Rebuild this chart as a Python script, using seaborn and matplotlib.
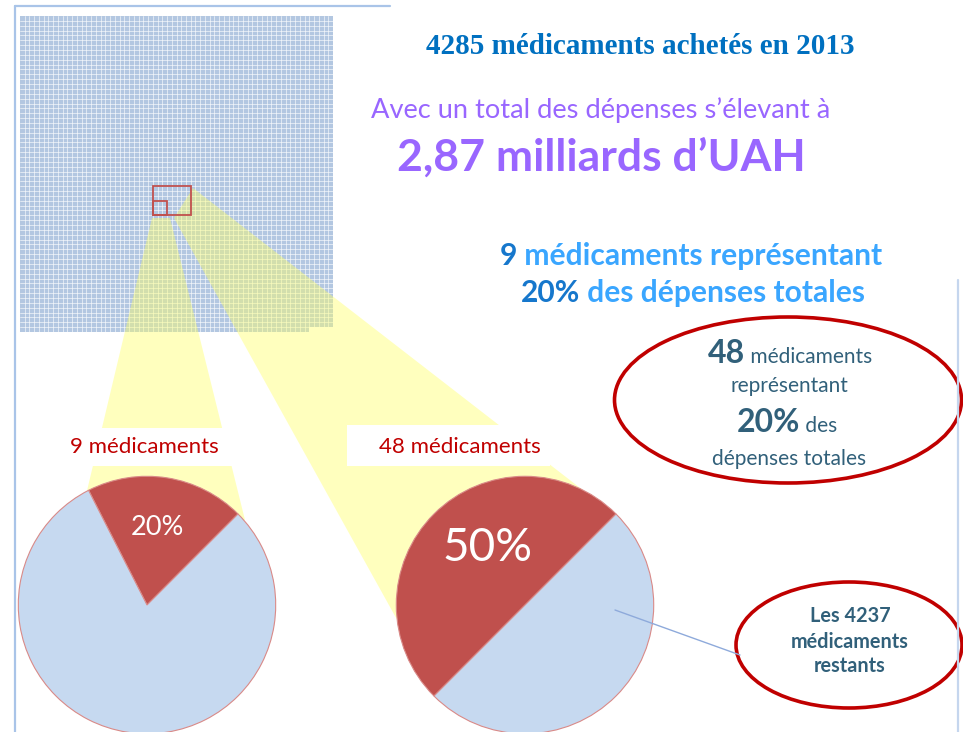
import numpy as np
import seaborn as sns
import matplotlib.pyplot as plt
from matplotlib.colors import ListedColormap
from matplotlib.patches import Rectangle, Ellipse, Polygon

# data
n_drugs = 4285
grid_cols = 66
n_top9 = 9
n_top48 = 48
n_rest = n_drugs - n_top48
share_top9 = [20, 80]
share_top48 = [50, 50]
pie_labels = ["9 médicaments", "48 médicaments"]

sns.set_style("white")
plt.rcParams["font.family"] = ["Lato", "DejaVu Sans"]

RED = "#c0504d"
BLUE = "#c6d9f0"
DARKRED = "#c00000"
TEAL = "#31607a"
PURPLE = "#9966ff"
LBLUE = "#3aa6ff"
DBLUE = "#1677cc"

W, H = 963, 732
fig = plt.figure(figsize=(W / 100, H / 100), dpi=100)
fig.patch.set_facecolor("white")


def px_axes(x0, y0, w, h, z):
    return fig.add_axes([x0 / W, 1 - (y0 + h) / H, w / W, h / H], zorder=z)


# grid of all drugs bought
rows = int(np.ceil(n_drugs / grid_cols))
cells = np.full(rows * grid_cols, np.nan)
cells[:n_drugs] = 1
cells = cells.reshape(rows, grid_cols)
ax_grid = px_axes(20, 16, 313, 316, 0)
sns.heatmap(cells, cmap=ListedColormap(["#b3c7e1"]), cbar=False,
            linewidths=0, xticklabels=False, yticklabels=False, ax=ax_grid)
for c in range(1, grid_cols):
    ax_grid.axvline(c, color="white", lw=0.55, alpha=0.75)
for r in range(1, rows):
    ax_grid.axhline(r, color="white", lw=0.55, alpha=0.75)
ax_grid.axis("off")

# beams layer
ax_bg = px_axes(0, 0, W, H, 1)
ax_bg.set_xlim(0, W)
ax_bg.set_ylim(H, 0)
ax_bg.axis("off")
ax_bg.patch.set_alpha(0)
ax_bg.add_patch(Polygon([(152, 218), (170, 218), (245, 520), (80, 520)],
                        closed=True, fc="#ffff66", alpha=0.42, lw=0))
ax_bg.add_patch(Polygon([(174, 218), (193, 188), (615, 515), (400, 625)],
                        closed=True, fc="#ffff66", alpha=0.42, lw=0))
ax_bg.add_patch(Rectangle((28, 35), 8, n_top48 / 8, transform=ax_grid.transData,
                          fill=False, ec="#c0504d", lw=1.3, clip_on=False))
ax_bg.add_patch(Rectangle((28, 38), 3, n_top9 / 3, transform=ax_grid.transData,
                          fill=False, ec="#c0504d", lw=1.3, clip_on=False))

# pies
for cx, share, lsize, lpos in [(147, share_top9, 19.5, (0.08, 0.6)),
                               (525, share_top48, 33, (-0.29, 0.44))]:
    axp = px_axes(cx - 130, 475, 260, 260, 2)
    wedges, _, autotexts = axp.pie(
        share, colors=[RED, BLUE], startangle=45, counterclock=True,
        autopct="%d%%",
        wedgeprops=dict(edgecolor="#d98a88", linewidth=0.8),
        textprops=dict(color="white", fontsize=lsize))
    autotexts[0].set_position(lpos)
    autotexts[1].set_visible(False)
    axp.set_xlim(-1.01, 1.01)
    axp.set_ylim(-1.01, 1.01)

# annotation layer
ax = px_axes(0, 0, W, H, 3)
ax.set_xlim(0, W)
ax.set_ylim(H, 0)
ax.axis("off")
ax.patch.set_alpha(0)

# frame lines
ax.plot([15, 15], [6, H], color="#a9c4e8", lw=1.6)
ax.plot([15, 390], [6, 6], color="#a9c4e8", lw=1.6)
ax.plot([958, 958], [280, H], color="#c5d6ee", lw=1.6)

ax.text(640, 47, f"{n_drugs} médicaments achetés en 2013", ha="center", va="center",
        family="Liberation Serif", weight="bold", fontsize=21, color="#0070c0")
ax.text(601, 110, "Avec un total des dépenses s’élevant à", ha="center",
        va="center", fontsize=19.6, color=PURPLE)
ax.text(601, 157, "2,87 milliards d’UAH", ha="center", va="center",
        fontsize=32, weight="bold", color=PURPLE)


def run(x, y, parts):
    prev = None
    for txt, size, weight, color in parts:
        if prev is None:
            prev = ax.text(x, y, txt, ha="left", va="baseline", fontsize=size,
                           weight=weight, color=color)
        else:
            prev = ax.annotate(txt, xy=(1, y), xycoords=(prev, "data"),
                               ha="left", va="baseline", fontsize=size,
                               weight=weight, color=color)


run(500, 265, [(f"{n_top9}", 21.6, "bold", DBLUE),
               (" médicaments représentant", 21.6, "bold", LBLUE)])
run(521, 302, [(f"{share_top9[0]}%", 21.6, "bold", DBLUE),
               (" des dépenses totales", 21.6, "bold", LBLUE)])

# ellipse callouts
ax.add_patch(Ellipse((788, 400), 347, 166, fc="white", ec=DARKRED, lw=2.6))
run(708, 363, [(f"{n_top48}", 23, "bold", TEAL),
               (" médicaments", 15, "normal", TEAL)])
ax.text(789, 392, "représentant", ha="center", va="baseline", fontsize=15, color=TEAL)
run(737, 432, [(f"{share_top9[0]}%", 23, "bold", TEAL),
               (" des", 15, "normal", TEAL)])
ax.text(789, 465, "dépenses totales", ha="center", va="baseline", fontsize=15, color=TEAL)

ax.plot([615, 740], [610, 655], color="#8eaadb", lw=1)
ax.add_patch(Ellipse((849, 645), 226, 126, fc="white", ec=DARKRED, lw=2.6))
for yy, line in zip([622, 648, 672], [f"Les {n_rest}", "médicaments", "restants"]):
    ax.text(850, yy, line, ha="center", va="baseline", fontsize=14.3,
            weight="bold", color=TEAL)

# pie titles on white boxes
ax.add_patch(Rectangle((60, 428), 172, 38, fc="white", lw=0))
ax.add_patch(Rectangle((347, 425), 203, 41, fc="white", lw=0))
ax.text(144, 447, pie_labels[0], ha="center", va="center", fontsize=16, color=DARKRED)
ax.text(460, 447, pie_labels[1], ha="center", va="center", fontsize=16, color=DARKRED)

fig.savefig("out.png", dpi=100, facecolor="white")
